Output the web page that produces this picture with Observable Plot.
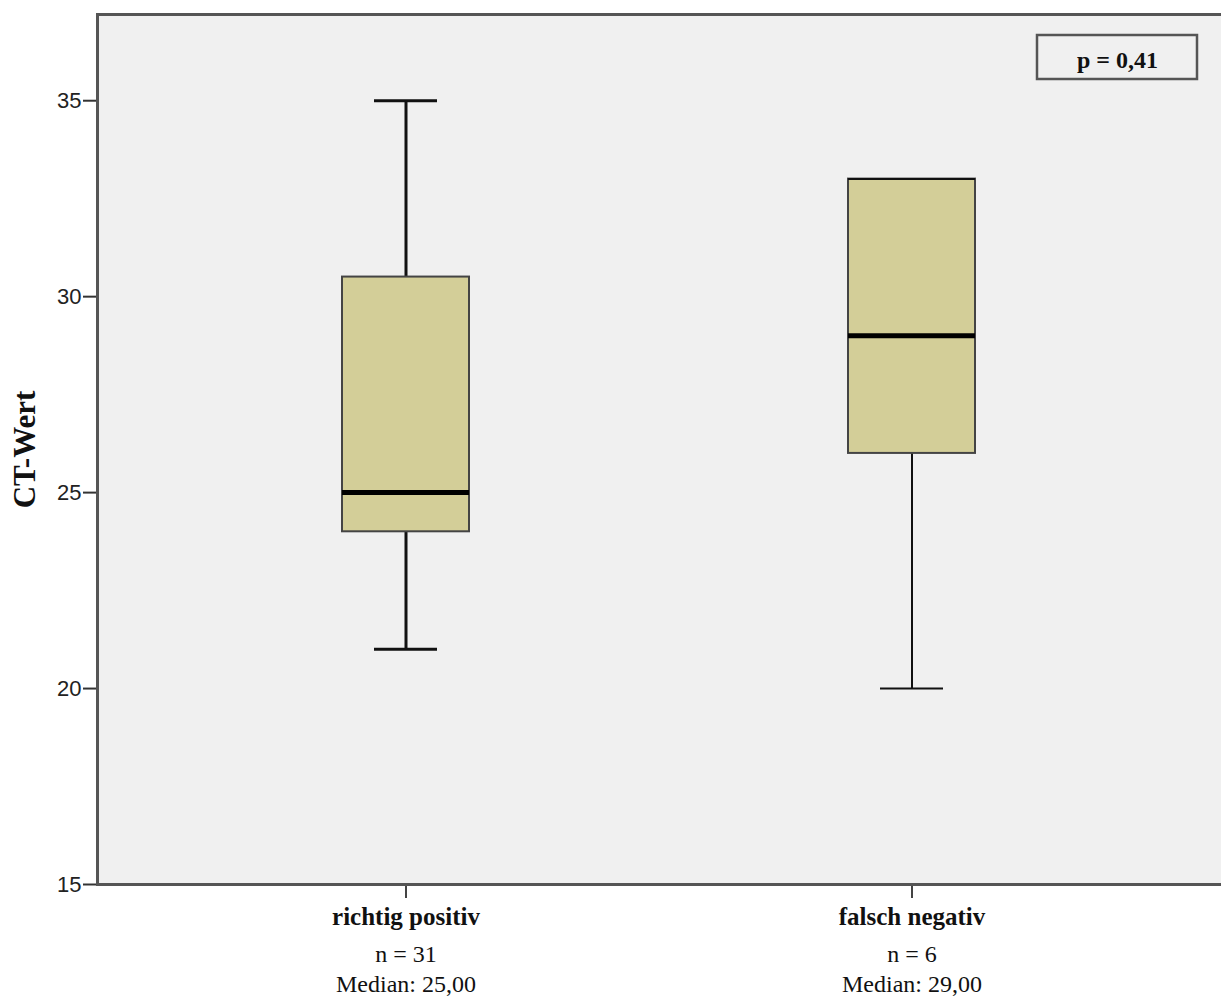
<!DOCTYPE html>
<html><head><meta charset="utf-8">
<script src="https://cdn.jsdelivr.net/npm/d3@7"></script>
<script src="https://cdn.jsdelivr.net/npm/@observablehq/plot@0.6"></script>
<style>html,body{margin:0;padding:0;background:#fff;overflow:hidden}</style>
</head><body><div id="chart"></div>
<script>
const categories = ["richtig positiv", "falsch negativ"];
const nValues = [31, 6];
const medians = [25, 29];
const q1 = [24, 26];
const q3 = [30.5, 33];
const whiskerLow = [21, 20];
const whiskerHigh = [35, 33];
const yTicks = [15, 20, 25, 30, 35];
const yLabel = "CT-Wert";
const pLabel = "p = 0,41";

const fmt = v => v.toFixed(2).replace(".", ",");
const data = categories.map((c, i) => ({
  cat: c, n: nValues[i], med: medians[i], q1: q1[i], q3: q3[i],
  lo: whiskerLow[i], hi: whiskerHigh[i],
  nText: "n = " + nValues[i], medText: "Median: " + fmt(medians[i])
}));

const pBox = (index, scales, values, dims) => {
  const g = d3.create("svg:g");
  const right = dims.width - dims.marginRight;
  g.append("rect")
    .attr("x", right - 184).attr("y", dims.marginTop + 21)
    .attr("width", 160).attr("height", 44)
    .attr("fill", "#f0f0f0").attr("stroke", "#555").attr("stroke-width", 2.5);
  return g.node();
};

const chart = Plot.plot({
  width: 1221, height: 997,
  marginLeft: 97, marginTop: 14, marginRight: 0, marginBottom: 113,
  style: {background: "#fff", fontFamily: "Liberation Serif", color: "#111"},
  x: {type: "band", domain: categories, paddingInner: 0.749, paddingOuter: 0.485, axis: null},
  y: {domain: [15, 37.2], axis: null},
  marks: [
    Plot.frame({fill: "#f0f0f0", stroke: null}),
    Plot.axisY(yTicks, {tickSize: 14, tickPadding: 2, fontSize: 22, fontFamily: "Liberation Sans",
      stroke: "#333", strokeWidth: 2, fill: "#222", label: null}),
    Plot.axisX({tickSize: 14, tickFormat: () => "", stroke: "#444", strokeWidth: 2, label: null}),
    Plot.text([yLabel], {frameAnchor: "left", dx: -72, rotate: -90, textAnchor: "middle", lineAnchor: "middle",
      fontWeight: "bold", fontSize: 31, fill: "#111"}),
    Plot.ruleX(data, {x: "cat", y1: "q3", y2: "hi", stroke: "#111", strokeWidth: d => d.n > 10 ? 3 : 2}),
    Plot.ruleX(data, {x: "cat", y1: "q1", y2: "lo", stroke: "#111", strokeWidth: d => d.n > 10 ? 3 : 2}),
    Plot.tickY(data, {x: "cat", y: "lo", insetLeft: 32, insetRight: 32, stroke: "#111", strokeWidth: d => d.n > 10 ? 3 : 2}),
    Plot.tickY(data, {x: "cat", y: "hi", insetLeft: 32, insetRight: 32, stroke: "#111", strokeWidth: d => d.n > 10 ? 3 : 2}),
    Plot.barY(data, {x: "cat", y1: "q1", y2: "q3", fill: "#d3ce98", stroke: "#444", strokeWidth: 2}),
    Plot.tickY(data, {x: "cat", y: "hi", stroke: "#111", strokeWidth: 2, filter: d => d.hi === d.q3}),
    Plot.tickY(data, {x: "cat", y: "med", stroke: "#000", strokeWidth: 5}),
    Plot.text(data, {x: "cat", text: "cat", frameAnchor: "bottom", dy: 40, fontWeight: "bold", fontSize: 25, fill: "#111"}),
    Plot.text(data, {x: "cat", text: "nText", frameAnchor: "bottom", dy: 77, fontSize: 24, fill: "#111"}),
    Plot.text(data, {x: "cat", text: "medText", frameAnchor: "bottom", dy: 107, fontSize: 24, fill: "#111"}),
    Plot.frame({anchor: "left", stroke: "#555", strokeWidth: 3}),
    Plot.frame({anchor: "top", stroke: "#555", strokeWidth: 3}),
    Plot.frame({anchor: "bottom", stroke: "#555", strokeWidth: 3}),
    pBox,
    Plot.text([pLabel], {frameAnchor: "top-right", dx: -104, dy: 46, textAnchor: "middle", lineAnchor: "middle",
      fontWeight: "bold", fontSize: 24, fill: "#111"})
  ]
});
document.getElementById("chart").appendChild(chart);
</script>
</body></html>
